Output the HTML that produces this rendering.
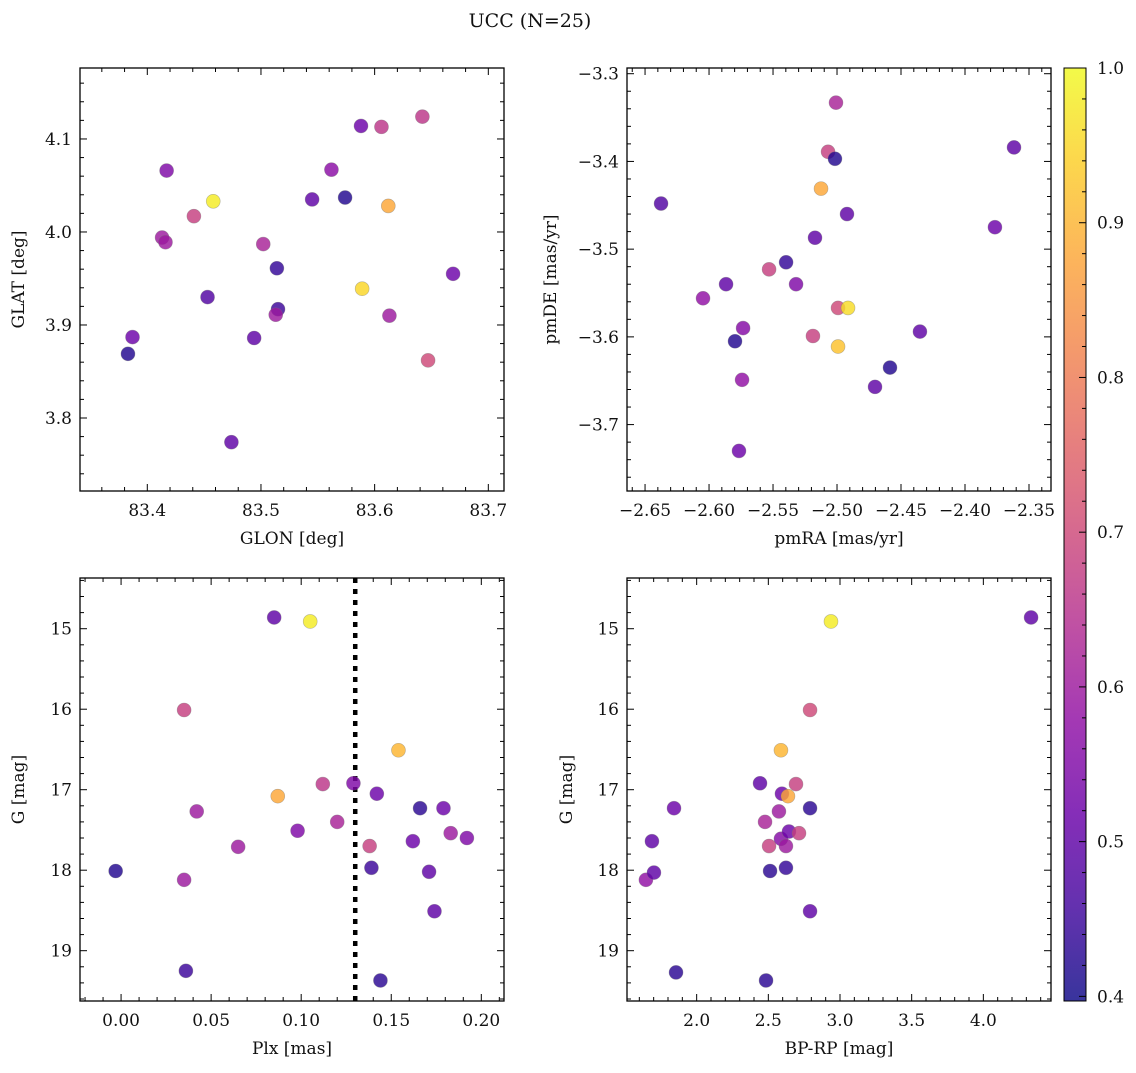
<!DOCTYPE html>
<html><head><meta charset="utf-8">
<style>
body{margin:0;background:#fff;width:1136px;height:1068px;overflow:hidden}
svg text{font-family:"DejaVu Serif","Liberation Serif",serif;fill:#111}
</style></head>
<body>
<svg id="fig" width="1136" height="1068" xmlns="http://www.w3.org/2000/svg">
<text x="530" y="27" text-anchor="middle" font-size="19">UCC (N=25)</text>
</svg>
<script>
// ---- data (per panel) ----
const p1X=[83.383,83.387,83.417,83.458,83.441,83.413,83.416,83.453,83.474,83.502,83.494,83.514,83.515,83.513,83.545,83.562,83.574,83.588,83.606,83.612,83.589,83.613,83.642,83.647,83.669];
const p1Y=[3.869,3.887,4.066,4.033,4.017,3.994,3.989,3.930,3.774,3.987,3.886,3.961,3.917,3.911,4.035,4.067,4.037,4.114,4.113,4.028,3.939,3.910,4.124,3.862,3.955];
const p1C=[0.42,0.52,0.55,0.98,0.68,0.60,0.60,0.48,0.50,0.62,0.50,0.44,0.45,0.60,0.50,0.57,0.42,0.52,0.66,0.88,0.95,0.60,0.66,0.70,0.52];

const p2X=[-2.6375,-2.6047,-2.5867,-2.5766,-2.5797,-2.5742,-2.5734,-2.5531,-2.5398,-2.5320,-2.5188,-2.5172,-2.5125,-2.5070,-2.5008,-2.5016,-2.4992,-2.4922,-2.4914,-2.4992,-2.4703,-2.4586,-2.4352,-2.3766,-2.3617];
const p2Y=[-3.448,-3.556,-3.540,-3.730,-3.605,-3.649,-3.590,-3.523,-3.515,-3.540,-3.599,-3.487,-3.431,-3.389,-3.333,-3.397,-3.567,-3.460,-3.567,-3.611,-3.657,-3.635,-3.594,-3.475,-3.384];
const p2C=[0.48,0.58,0.50,0.52,0.42,0.58,0.56,0.68,0.44,0.55,0.68,0.50,0.88,0.68,0.62,0.42,0.70,0.50,0.96,0.92,0.50,0.42,0.50,0.52,0.50];

const p3X=[-0.003,0.035,0.035,0.036,0.042,0.065,0.085,0.105,0.087,0.098,0.112,0.120,0.129,0.138,0.139,0.142,0.144,0.154,0.162,0.166,0.171,0.174,0.179,0.183,0.192];
const p3Y=[18.01,16.01,18.12,19.25,17.27,17.71,14.86,14.91,17.08,17.51,16.93,17.40,16.92,17.70,17.97,17.05,19.37,16.51,17.64,17.23,18.02,18.51,17.23,17.54,17.60];
const p3C=[0.42,0.68,0.60,0.45,0.60,0.60,0.50,0.98,0.88,0.55,0.66,0.62,0.55,0.68,0.45,0.52,0.43,0.90,0.52,0.43,0.50,0.50,0.52,0.60,0.55];

const p4X=[1.646,1.688,1.702,1.842,1.856,2.442,2.477,2.505,2.512,2.574,2.588,2.588,2.595,2.623,2.623,2.637,2.644,2.693,2.714,2.791,2.791,2.791,2.484,2.937,4.333];
const p4Y=[18.12,17.64,18.03,17.23,19.27,16.92,17.40,17.70,18.01,17.27,16.51,17.61,17.05,17.97,17.70,17.08,17.52,16.93,17.54,16.01,17.23,18.51,19.37,14.91,14.86];
const p4C=[0.58,0.50,0.50,0.52,0.43,0.50,0.62,0.68,0.43,0.60,0.90,0.56,0.52,0.44,0.60,0.88,0.52,0.68,0.68,0.70,0.43,0.50,0.43,0.98,0.50];

const plxCut=0.13;
const cbTicks=[0.4,0.5,0.6,0.7,0.8,0.9,1.0];
const vmin=0.397,vmax=1.0;

const NS="http://www.w3.org/2000/svg";
const svg=document.getElementById('fig');
function mk(tag,attrs,parent){const e=document.createElementNS(NS,tag);for(const k in attrs)e.setAttribute(k,attrs[k]);(parent||svg).appendChild(e);return e;}
const stops=["#0d0887","#41049d","#6a00a8","#8f0da4","#b12a90","#cc4778","#e16462","#f2844b","#fca636","#fcce25","#f0f921"];
function hex(h){return [1,3,5].map(i=>parseInt(h.substr(i,2),16));}
function plasma(t){t=Math.max(0,Math.min(1,t));const f=t*10,i=Math.min(9,Math.floor(f)),r=f-i;const a=hex(stops[i]),b=hex(stops[i+1]);return 'rgb('+a.map((v,k)=>Math.round(v+(b[k]-v)*r)).join(',')+')';}
function fmt(v,d){const s=Math.abs(v).toFixed(d);return (v<-1e-9?'\u2212':'')+s;}

function panel(o){
  const g=mk('g',{});
  
  
  const L=o.L,T=o.T,W=424,H=423;
  const sx=v=>L+(v-o.x0)/(o.x1-o.x0)*W;
  const sy=o.inv? (v=>T+(v-o.y0)/(o.y1-o.y0)*H) : (v=>T+H-(v-o.y0)/(o.y1-o.y0)*H);
  function ticks(a0,a1,step,minor,axis,dec){
    const n0=Math.ceil(a0/minor-1e-6),n1=Math.floor(a1/minor+1e-6);
    for(let n=n0;n<=n1;n++){
      const v=n*minor;const major=Math.abs(v/step-Math.round(v/step))<1e-6;const len=major?7:4;
      if(axis==='x'){const x=sx(v);
        mk('line',{x1:x,x2:x,y1:T+H,y2:T+H-len,stroke:'#000','stroke-width':1},g);
        mk('line',{x1:x,x2:x,y1:T,y2:T+len,stroke:'#000','stroke-width':1},g);
        if(major){const t=mk('text',{x:x,y:T+H+25,'text-anchor':'middle','font-size':17},g);t.textContent=fmt(v,dec);
          
          }
      }else{const y=sy(v);
        mk('line',{x1:L,x2:L+len,y1:y,y2:y,stroke:'#000','stroke-width':1},g);
        mk('line',{x1:L+W,x2:L+W-len,y1:y,y2:y,stroke:'#000','stroke-width':1},g);
        if(major){const t=mk('text',{x:L-8,y:y+6,'text-anchor':'end','font-size':17},g);t.textContent=fmt(v,dec);
          
          }
      }
    }
  }
  ticks(o.x0,o.x1,o.xs,o.xm,'x',o.xd);
  ticks(Math.min(o.y0,o.y1),Math.max(o.y0,o.y1),o.ys,o.ym,'y',o.yd);
  if(o.vline!==undefined){const l=mk('line',{x1:sx(o.vline),x2:sx(o.vline),y1:T,y2:T+H,stroke:'#000','stroke-width':4.5,'stroke-dasharray':'5,6'},g);
    
    }
  for(let i=0;i<o.X.length;i++){
    const c=mk('circle',{cx:sx(o.X[i]),cy:sy(o.Y[i]),r:7,fill:plasma((o.C[i]-vmin)/(vmax-vmin)),'fill-opacity':0.82,stroke:'#777','stroke-opacity':0.5,'stroke-width':0.6},g);
    
    
  }
  const f=mk('rect',{x:L,y:T,width:W,height:H,fill:'none',stroke:'#000','stroke-width':1.3},g);
  
  
  const xl=mk('text',{x:L+W/2,y:T+H+53,'text-anchor':'middle','font-size':17},g);xl.textContent=o.xl;
  
  
  const yl=mk('text',{x:0,y:0,'text-anchor':'middle','font-size':17,transform:`translate(${o.ylx},${T+H/2}) rotate(-90)`},g);yl.textContent=o.yl;
  
  
}
panel({name:'glon-glat-panel',L:80,T:68,x0:83.3408,x1:83.7138,y0:3.7215,y1:4.1763,xs:0.1,xm:0.02,ys:0.1,ym:0.02,xd:1,yd:1,X:p1X,Y:p1Y,C:p1C,xl:'GLON [deg]',yl:'GLAT [deg]',ylx:24});
panel({name:'proper-motion-panel',L:627,T:68,x0:-2.6641,x1:-2.3328,y0:-3.7757,y1:-3.2935,xs:0.05,xm:0.01,ys:0.1,ym:0.02,xd:2,yd:1,X:p2X,Y:p2Y,C:p2C,xl:'pmRA [mas/yr]',yl:'pmDE [mas/yr]',ylx:556});
panel({name:'parallax-mag-panel',L:80,T:578,x0:-0.0228,x1:0.2126,y0:14.37,y1:19.625,inv:true,xs:0.05,xm:0.01,ys:1,ym:0.2,xd:2,yd:0,X:p3X,Y:p3Y,C:p3C,xl:'Plx [mas]',yl:'G [mag]',ylx:24,vline:plxCut});
panel({name:'cmd-panel',L:627,T:578,x0:1.514,x1:4.472,y0:14.37,y1:19.625,inv:true,xs:0.5,xm:0.1,ys:1,ym:0.2,xd:1,yd:0,X:p4X,Y:p4Y,C:p4C,xl:'BP-RP [mag]',yl:'G [mag]',ylx:572});

// colorbar
const cb=mk('g',{});


const defs=mk('defs',{},cb);
const lg=mk('linearGradient',{id:'cbg',x1:0,y1:1,x2:0,y2:0},defs);
for(let i=0;i<=20;i++){const t=i/20;mk('stop',{offset:t,'stop-color':plasma(t),'stop-opacity':0.82},lg);}
const CT=68,CB=1001,CL=1064,CW=22;
mk('rect',{x:CL,y:CT,width:CW,height:CB-CT,fill:'url(#cbg)',stroke:'#000','stroke-width':1},cb);
const cy=v=>CB-(v-vmin)/(vmax-vmin)*(CB-CT);
for(let n=20;n<=50;n++){const v=n/50;if(v<vmin)continue;const major=n%5===0;
  mk('line',{x1:CL+CW,x2:CL+CW-(major?7:4),y1:cy(v),y2:cy(v),stroke:'#000','stroke-width':1},cb);}
cbTicks.forEach(v=>{const t=mk('text',{x:1097,y:cy(v)+6,'font-size':17},cb);t.textContent=v.toFixed(1);
  
  });
</script>
</body></html>
